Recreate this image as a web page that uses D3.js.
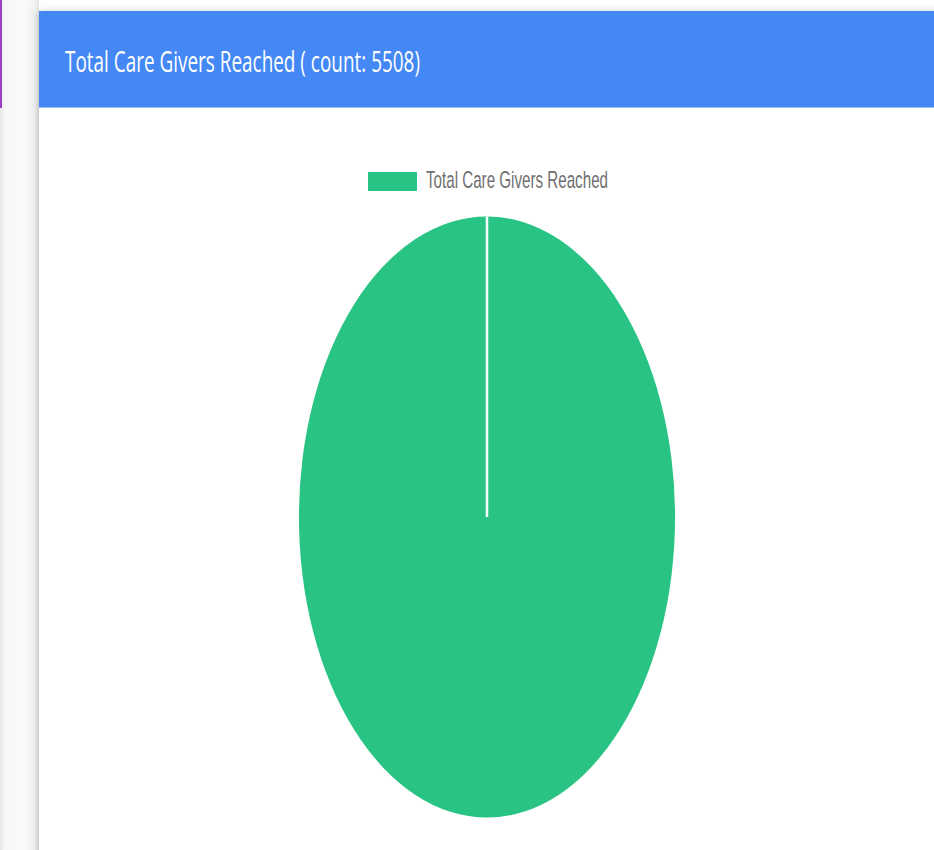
<!DOCTYPE html>
<html>
<head>
<meta charset="utf-8">
<script src="https://cdn.jsdelivr.net/npm/d3@7"></script>
<style>
  html, body { margin: 0; padding: 0; background: #ffffff; overflow: hidden; }
  svg { display: block; }
</style>
</head>
<body>
<svg id="chart" width="934" height="850"></svg>
<script>
// Chart data
const categories = ["Total Care Givers Reached"];
const values = [5508];
const colors = ["#29C484"];
const titleText = "Total Care Givers Reached ( count: " + d3.sum(values) + ")";

const W = 934, H = 850;
const svg = d3.select("#chart");

const defs = svg.append("defs");
const shadow = defs.append("filter").attr("id", "cardShadow")
  .attr("x", "-5%").attr("y", "-5%").attr("width", "110%").attr("height", "110%");
shadow.append("feDropShadow").attr("dx", 0).attr("dy", 1)
  .attr("stdDeviation", 4).attr("flood-color", "#000").attr("flood-opacity", 0.22);

const sideGrad = defs.append("linearGradient").attr("id", "sideGrad")
  .attr("x1", 0).attr("x2", 1).attr("y1", 0).attr("y2", 0);
sideGrad.append("stop").attr("offset", "0").attr("stop-color", "#e6e6e6");
sideGrad.append("stop").attr("offset", "0.12").attr("stop-color", "#f7f7f7");
sideGrad.append("stop").attr("offset", "0.6").attr("stop-color", "#fbfbfb");
sideGrad.append("stop").attr("offset", "0.9").attr("stop-color", "#f1f1f1");
sideGrad.append("stop").attr("offset", "1").attr("stop-color", "#e2e2e2");

// Neighbouring panel on the left edge
svg.append("rect").attr("x", 0).attr("y", 0).attr("width", 39).attr("height", H)
  .attr("fill", "url(#sideGrad)");
svg.append("rect").attr("x", 0).attr("y", 0).attr("width", 2).attr("height", 108)
  .attr("fill", "#9E3FC8");

// Card
const cardX = 39, cardY = 11, headerH = 97;
svg.append("rect").attr("x", cardX).attr("y", cardY)
  .attr("width", W - cardX + 20).attr("height", H)
  .attr("fill", "#ffffff").attr("filter", "url(#cardShadow)");
svg.append("rect").attr("x", cardX).attr("y", cardY)
  .attr("width", W - cardX + 20).attr("height", headerH)
  .attr("fill", "#4488F6");
svg.append("rect").attr("x", cardX).attr("y", cardY + headerH - 1)
  .attr("width", W - cardX + 20).attr("height", 1)
  .attr("fill", "#9dbff2");

svg.append("text")
  .attr("x", 65).attr("y", 71.7)
  .attr("fill", "#ffffff")
  .attr("font-family", "'Open Sans', 'Noto Sans', sans-serif")
  .attr("font-size", 29)
  .attr("textLength", 355)
  .attr("lengthAdjust", "spacingAndGlyphs")
  .text(titleText);

// Legend
const legend = svg.append("g");
categories.forEach((c, i) => {
  legend.append("rect").attr("x", 368).attr("y", 172)
    .attr("width", 49).attr("height", 19).attr("fill", colors[i]);
  legend.append("text")
    .attr("x", 426).attr("y", 188.3)
    .attr("fill", "#707070")
    .attr("font-family", "'Liberation Sans', Arial, sans-serif")
    .attr("font-size", 24.5)
    .attr("textLength", 182)
    .attr("lengthAdjust", "spacingAndGlyphs")
    .text(c);
});

// Pie (drawn stretched vertically)
const cx = 487, cy = 517, rx = 188, ry = 300.5;
const pie = d3.pie().sort(null).value(d => d)(values);
const arc = d3.arc().innerRadius(0).outerRadius(rx);
const angle = d3.scaleLinear().domain([0, d3.sum(values)]).range([0, 2 * Math.PI]);

const g = svg.append("g")
  .attr("transform", `translate(${cx},${cy}) scale(1,${ry / rx})`);

g.selectAll("path.slice").data(pie).join("path")
  .attr("class", "slice")
  .attr("d", arc)
  .attr("fill", (d, i) => colors[i]);

// Slice borders from the centre
g.selectAll("line.border").data(pie).join("line")
  .attr("class", "border")
  .attr("x1", 0).attr("y1", 0)
  .attr("x2", d => rx * Math.sin(d.startAngle))
  .attr("y2", d => -rx * Math.cos(d.startAngle))
  .attr("stroke", "#ffffff")
  .attr("stroke-width", 2.5)
  .attr("vector-effect", "non-scaling-stroke");
</script>
</body>
</html>
